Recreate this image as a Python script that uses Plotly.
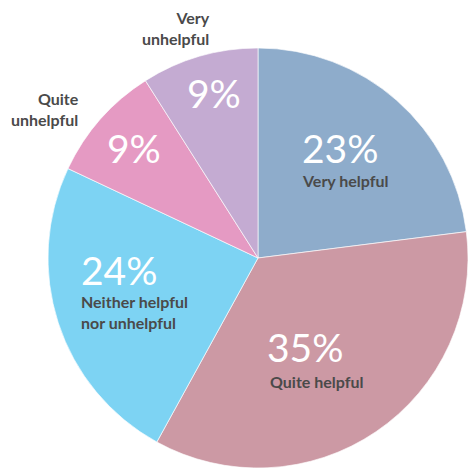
import plotly.graph_objects as go

categories = ["Very helpful", "Quite helpful", "Neither helpful nor unhelpful",
              "Quite unhelpful", "Very unhelpful"]
values = [23, 35, 24, 9, 9]
pct_labels = ["23%", "35%", "24%", "9%", "9%"]
label_texts = ["Very helpful", "Quite helpful", "Neither helpful<br>nor unhelpful",
               "Quite<br>unhelpful", "Very<br>unhelpful"]
colors = ["#8eaccb", "#cc99a4", "#7dd3f3", "#e59ac3", "#c4abd2"]

W = H = 468
fig = go.Figure()
fig.add_trace(go.Pie(
    labels=categories, values=values, sort=False, direction="clockwise",
    rotation=0, textinfo="none", hole=0,
    marker=dict(colors=colors, line=dict(color="rgba(255,255,255,0.8)", width=0.8)),
    domain=dict(x=[48 / W, 1.0], y=[0.0, 1 - 48 / H]),
    showlegend=False,
))

def px(x, y):
    return x / W, 1 - y / H

PCT_FONT = dict(family="Lato, Open Sans, sans-serif", size=39, color="white", weight=400)
LBL_FONT = dict(family="Lato, Open Sans, sans-serif", size=16, color="#4a4a4a", weight=700)

texts = [
    (pct_labels[0], 300, 148, "left", PCT_FONT),
    (label_texts[0], 300, 181, "left", LBL_FONT),
    (pct_labels[1], 265, 347, "left", PCT_FONT),
    (label_texts[1], 268, 381, "left", LBL_FONT),
    (pct_labels[2], 79, 270, "left", PCT_FONT),
    (label_texts[2], 79, 312, "left", LBL_FONT),
    (pct_labels[3], 105, 148, "left", PCT_FONT),
    (label_texts[3], 81, 109, "right", LBL_FONT),
    (pct_labels[4], 185, 93, "left", PCT_FONT),
    (label_texts[4], 212, 28, "right", LBL_FONT),
]
for t, x, y, anc, f in texts:
    xx, yy = px(x, y)
    fig.add_annotation(text=t, x=xx, y=yy, xref="paper", yref="paper",
                       xanchor=anc, yanchor="middle", align=anc,
                       showarrow=False, font=f)

fig.update_layout(width=W, height=H, margin=dict(l=0, r=0, t=0, b=0),
                  paper_bgcolor="white", plot_bgcolor="white")
fig.write_html("out.html", config={"displayModeBar": False},
               post_script="document.body.style.margin='0';document.body.style.overflow='hidden';")
